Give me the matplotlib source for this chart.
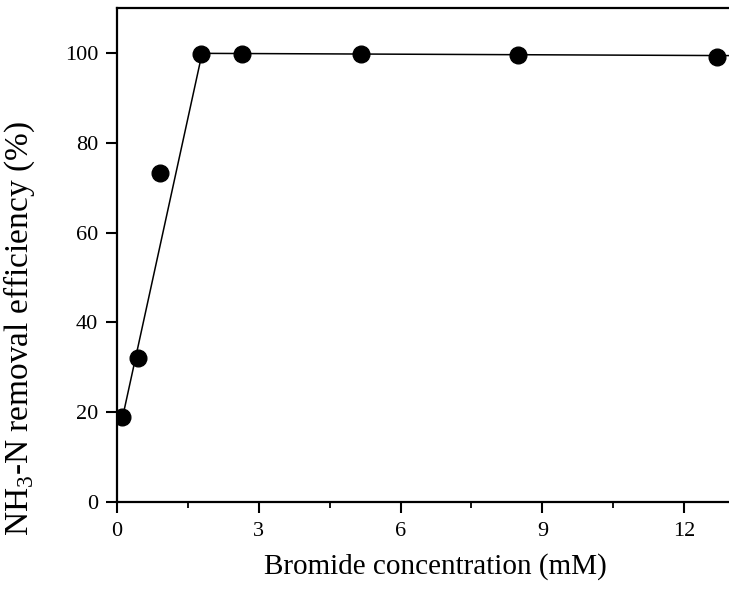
import matplotlib.pyplot as plt
from matplotlib.ticker import MultipleLocator

# measured removal efficiency vs. bromide dose
bromide_mM = [0.1, 0.44, 0.91, 1.78, 2.64, 5.16, 8.49, 12.7]
removal_pct = [19.0, 32.0, 73.2, 99.7, 99.8, 99.7, 99.5, 99.0]

# breakpoint fit drawn through the data
fit_x = [0.1, 1.8, 12.95]
fit_y = [18.0, 99.9, 99.4]

plt.rcParams['font.family'] = ['Liberation Serif', 'DejaVu Serif']
plt.rcParams['mathtext.fontset'] = 'custom'
plt.rcParams['mathtext.rm'] = 'Liberation Serif'

fig = plt.figure(figsize=(7.29, 6.01), dpi=100)
ax = fig.add_axes([0.1605, 0.1647, 0.8395, 0.822])

ax.plot(fit_x, fit_y, color='black', linewidth=1.1)
ax.plot(bromide_mM, removal_pct, 'o', color='black', markersize=12)

ax.set_xlim(0, 12.95)
ax.set_ylim(0, 110)
ax.xaxis.set_major_locator(MultipleLocator(3))
ax.xaxis.set_minor_locator(MultipleLocator(1.5))
ax.yaxis.set_major_locator(MultipleLocator(20))

for side in ['left', 'bottom', 'top']:
    ax.spines[side].set_linewidth(1.6)
ax.spines['right'].set_visible(False)

ax.tick_params(axis='both', which='major', direction='out', length=8, width=1.5,
               labelsize=16)
ax.tick_params(axis='x', which='major', pad=6.5)
ax.tick_params(axis='y', which='major', pad=5.5)
ax.tick_params(axis='x', which='minor', direction='out', length=4, width=1.3)

ax.set_xlabel('Bromide concentration (mM)', fontsize=21)
ax.xaxis.set_label_coords(0.52, -0.103)
ax.set_ylabel(r'NH$_{\mathregular{3}}$-N removal efficiency (%)', fontsize=24)
ax.yaxis.set_label_coords(-0.131, 0.35)

fig.savefig('out.png', dpi=100)
